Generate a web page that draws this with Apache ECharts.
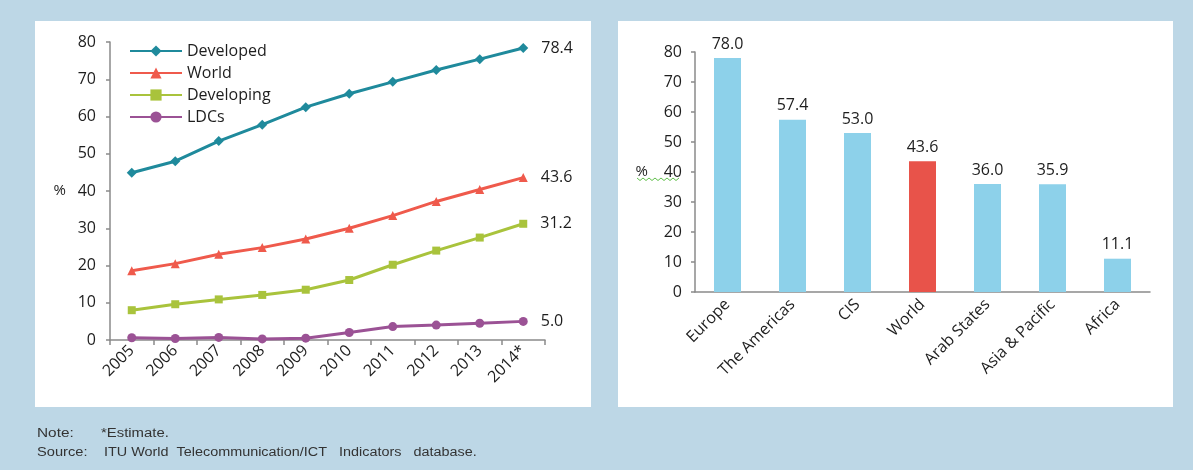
<!DOCTYPE html>
<html><head><meta charset="utf-8">
<script src="https://cdn.jsdelivr.net/npm/echarts@6/dist/echarts.min.js"></script>
<style>html,body{margin:0;padding:0;background:#bdd7e6;}#c{width:1193px;height:470px;}</style>
</head><body><div id="c"></div>
<script>
// ---- data ----
const years = ['2005','2006','2007','2008','2009','2010','2011','2012','2013','2014*'];
const developed = [44.9, 48.0, 53.4, 57.8, 62.5, 66.1, 69.3, 72.5, 75.4, 78.4];
const world = [18.6, 20.5, 23.0, 24.8, 27.1, 30.0, 33.4, 37.2, 40.4, 43.6];
const developing = [8.0, 9.6, 10.9, 12.1, 13.5, 16.1, 20.2, 24.0, 27.5, 31.2];
const ldcs = [0.6, 0.4, 0.7, 0.3, 0.5, 2.0, 3.6, 4.0, 4.5, 5.0];
const lineNames = ['Developed','World','Developing','LDCs'];
const regions = ['Europe','The Americas','CIS','World','Arab States','Asia & Pacific','Africa'];
const regionValues = [78.0, 57.4, 53.0, 43.6, 36.0, 35.9, 11.1];
const highlightRegion = 'World';
const yMin = 0, yMax = 80, yStep = 10;
const noteLabel = 'Note:', noteText = '*Estimate.';
const sourceLabel = 'Source:', sourceText = 'ITU World  Telecommunication/ICT   Indicators   database.';

// ---- styles ----
const FONT = 'Open Sans';
const TXT = '#1e1e1e';
const AXIS = '#8a8a8a';
const lineColors = ['#1f8a9c', '#ef5a4c', '#a9c33c', '#9b5295'];
const symbols = ['diamond', 'triangle', 'rect', 'circle'];
const symbolSizes = [10, 9, 8, 9];

function withEndLabel(arr) {
  return arr.map((v, i) => i === arr.length - 1
    ? { value: v, label: { show: true } } : v);
}

const lineSeries = [developed, world, developing, ldcs].map((arr, k) => ({
  name: lineNames[k], type: 'line', xAxisIndex: 0, yAxisIndex: 0,
  data: withEndLabel(arr),
  symbol: symbols[k], symbolSize: symbolSizes[k], showAllSymbol: true,
  lineStyle: { width: 3, color: lineColors[k] },
  itemStyle: { color: lineColors[k] },
  label: { show: false, position: 'right', distance: 13, fontFamily: FONT, fontSize: 16, color: TXT,
           formatter: p => Number(p.value).toFixed(1) },
  emphasis: { disabled: true }, animation: false
}));

const barSeries = {
  type: 'bar', xAxisIndex: 1, yAxisIndex: 1, barWidth: 27,
  data: regionValues.map((v, i) => regions[i] === highlightRegion
    ? { value: v, itemStyle: { color: '#e8534a' } } : v),
  itemStyle: { color: '#8dd1ea' },
  label: { show: true, position: 'top', distance: 6, fontFamily: FONT, fontSize: 16, color: TXT,
           formatter: p => Number(p.value).toFixed(1) },
  emphasis: { disabled: true }, animation: false
};

function yAx(gi, gap, margin) {
  return {
    type: 'value', gridIndex: gi, min: yMin, max: yMax, interval: yStep,
    splitLine: { show: false },
    axisLine: { show: true, lineStyle: { color: AXIS, width: 1.5 } },
    axisTick: { show: true, length: 4, lineStyle: { color: AXIS, width: 1.5 } },
    axisLabel: { fontFamily: FONT, fontSize: 16, color: TXT, margin: margin },
    name: '%', nameLocation: 'middle', nameRotate: 0, nameGap: gap,
    nameTextStyle: { fontFamily: FONT, fontSize: 15, color: TXT }
  };
}

const noteStyle = { fontFamily: 'Liberation Sans', fontSize: 12, fill: '#333' };
const option = {
  backgroundColor: '#bdd7e6',
  animation: false,
  graphic: [
    { type: 'rect', shape: { x: 35, y: 21, width: 556, height: 386 }, style: { fill: '#ffffff' }, z: -10, silent: true },
    { type: 'rect', shape: { x: 618, y: 21, width: 555, height: 386 }, style: { fill: '#ffffff' }, z: -10, silent: true },
    { type: 'polyline', silent: true, z: 10,
      shape: { points: [[637,178],[640,180.5],[643,178],[646,180.5],[649,178],[652,180.5],[655,178],[658,180.5],[661,178],[664,180.5],[667,178],[670,180.5],[673,178],[676,180.5],[679,178]] },
      style: { stroke: '#5fbf4a', lineWidth: 1, fill: null } },
    { type: 'text', x: 37, y: 428, scaleX: 1.28, style: Object.assign({ text: noteLabel }, noteStyle) },
    { type: 'text', x: 101, y: 428, scaleX: 1.24, style: Object.assign({ text: noteText }, noteStyle) },
    { type: 'text', x: 37, y: 447, scaleX: 1.22, style: Object.assign({ text: sourceLabel }, noteStyle) },
    { type: 'text', x: 104, y: 447, scaleX: 1.2, style: Object.assign({ text: sourceText }, noteStyle) }
  ],
  legend: {
    data: lineNames, orient: 'vertical', left: 124, top: 38,
    itemWidth: 52, itemHeight: 14, itemGap: 6,
    textStyle: { fontFamily: FONT, fontSize: 16, color: TXT }
  },
  grid: [
    { left: 110, top: 42, width: 435, height: 298 },
    { left: 695, top: 52, width: 455, height: 240 }
  ],
  xAxis: [
    { type: 'category', gridIndex: 0, data: years, boundaryGap: true,
      axisLine: { lineStyle: { color: AXIS, width: 1.5 } },
      axisTick: { show: true, length: 5, lineStyle: { color: AXIS, width: 1.5 } },
      axisLabel: { rotate: 45, fontFamily: FONT, fontSize: 16, color: TXT, margin: 8, interval: 0 } },
    { type: 'category', gridIndex: 1, data: regions, boundaryGap: true,
      axisLine: { lineStyle: { color: AXIS, width: 1.5 } },
      axisTick: { show: false },
      axisLabel: { rotate: 45, fontFamily: FONT, fontSize: 16, color: TXT, margin: 10, interval: 0 } }
  ],
  yAxis: [yAx(0, 44, 14), yAx(1, 47, 13)],
  series: [...lineSeries, barSeries]
};

const chart = echarts.init(document.getElementById('c'), null, { renderer: 'canvas' });
chart.setOption(option);
</script></body></html>
